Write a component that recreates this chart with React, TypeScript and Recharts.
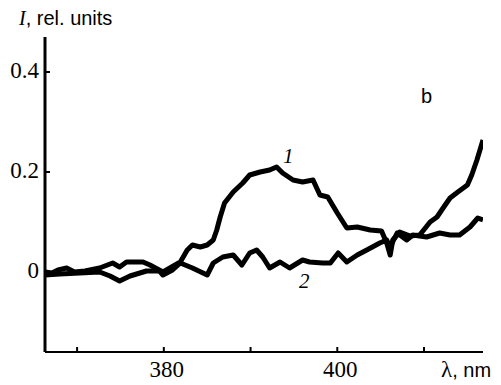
import { LineChart, Line, XAxis, YAxis } from 'recharts';

// Curve 1: wavelength (nm) and intensity
const WAVELENGTH_1 = [
  366.3, 367.1, 367.8, 368.8, 369.7, 370.9, 372.6, 374.1, 374.9, 375.7, 377.6, 378.4,
  379.9, 380.7, 381.9, 382.7, 383.3, 384.2, 385.0, 385.7, 386.1, 386.5, 387.0, 388.0,
  389.1, 389.9, 391.1, 392.2, 393.0, 393.7, 394.9, 396.0, 397.2, 398.0, 398.9, 400.0,
  401.1, 402.3, 403.8, 405.1, 405.7, 406.1, 406.4, 407.2, 408.4, 409.5, 410.7, 411.5,
  412.2, 413.0, 413.9, 415.0, 415.5, 416.1, 416.8,
];
const CURVE_1 = [
  0, -0.002, 0.004, 0.008, 0, 0.002, 0.008, 0.018, 0.01, 0.02, 0.02, 0.014,
  0, 0.008, 0.02, 0.044, 0.054, 0.05, 0.054, 0.064, 0.084, 0.11, 0.138, 0.16,
  0.178, 0.194, 0.2, 0.204, 0.21, 0.198, 0.184, 0.18, 0.184, 0.154, 0.15, 0.118,
  0.088, 0.09, 0.084, 0.082, 0.058, 0.034, 0.064, 0.08, 0.072, 0.074, 0.1, 0.11,
  0.128, 0.148, 0.16, 0.174, 0.194, 0.224, 0.264,
];

// Curve 2
const WAVELENGTH_2 = [
  366.3, 368.0, 370.3, 372.6, 373.8, 374.9, 376.1, 378.0, 379.5, 379.9, 381.0, 381.9,
  383.3, 385.0, 385.7, 386.8, 388.0, 389.0, 389.9, 390.7, 391.4, 392.2, 393.4, 394.5,
  396.0, 396.8, 398.3, 399.2, 400.1, 401.1, 402.3, 403.4, 404.9, 405.7, 406.1, 406.9,
  408.0, 408.7, 410.3, 411.8, 413.0, 414.1, 415.3, 416.2, 416.8,
];
const CURVE_2 = [
  -0.006, -0.004, -0.002, 0, -0.008, -0.018, -0.008, 0.002, 0.002, -0.006, 0.004, 0.018,
  0.008, -0.006, 0.018, 0.03, 0.034, 0.014, 0.038, 0.044, 0.03, 0.008, 0.02, 0.008,
  0.024, 0.02, 0.018, 0.018, 0.038, 0.02, 0.034, 0.044, 0.058, 0.064, 0.05, 0.078,
  0.064, 0.074, 0.07, 0.078, 0.074, 0.074, 0.09, 0.108, 0.104,
];

const X_TICKS = [370, 380, 390, 400, 410];
const X_LABELS = [380, 400];
const Y_TICKS = [0, 0.2, 0.4];
const Y_LABELS = ['0', '0.2', '0.4'];

const SERIF = '"Liberation Serif", "Times New Roman", serif';
const SANS = '"Liberation Sans", Arial, sans-serif';

const curve1 = WAVELENGTH_1.map((nm, i) => ({ nm, v: CURVE_1[i] }));
const curve2 = WAVELENGTH_2.map((nm, i) => ({ nm, v: CURVE_2[i] }));

const XTick = ({ x, y, payload }: any) => (
  <g>
    <line x1={x} x2={x} y1={y - 5} y2={y} stroke="#000" strokeWidth={2} />
    {X_LABELS.includes(payload.value) && (
      <text x={x + 3} y={y + 25} textAnchor="middle" fontFamily={SERIF} fontSize={23} fill="#000">
        {payload.value}
      </text>
    )}
  </g>
);

const YTick = ({ x, y, payload }: any) => {
  const idx = Y_TICKS.indexOf(payload.value);
  return (
    <g>
      <line x1={x} x2={x + 5} y1={y} y2={y} stroke="#000" strokeWidth={2} />
      <text x={x - 6} y={y + 6} textAnchor="end" fontFamily={SERIF} fontSize={23} fill="#000">
        {Y_LABELS[idx]}
      </text>
    </g>
  );
};

const App = () => {
  return (
    <div style={{ position: 'absolute', left: 0, top: 0, width: 501, height: 385, background: '#fff' }}>
      <LineChart width={501} height={385} data={curve1} margin={{ top: 37, right: 18, bottom: 0, left: 0 }}>
        <XAxis
          type="number"
          dataKey="nm"
          domain={[366.3, 416.8]}
          allowDataOverflow
          ticks={X_TICKS}
          tick={<XTick />}
          tickLine={false}
          tickSize={0}
          tickMargin={0}
          height={33}
          axisLine={{ stroke: '#000', strokeWidth: 2 }}
        />
        <YAxis
          type="number"
          domain={[-0.16, 0.47]}
          allowDataOverflow
          ticks={Y_TICKS}
          tick={<YTick />}
          tickLine={false}
          tickSize={0}
          tickMargin={0}
          width={45}
          axisLine={{ stroke: '#000', strokeWidth: 3 }}
        />
        <Line data={curve1} dataKey="v" type="linear" stroke="#000" strokeWidth={5} strokeLinejoin="round" dot={false} isAnimationActive={false} />
        <Line data={curve2} dataKey="v" type="linear" stroke="#000" strokeWidth={5} strokeLinejoin="round" dot={false} isAnimationActive={false} />
      </LineChart>
      <svg width={501} height={385} style={{ position: 'absolute', left: 0, top: 0, pointerEvents: 'none' }}>
        <text x={19} y={25} fontSize={20} fill="#000">
          <tspan fontFamily={SERIF} fontStyle="italic">I</tspan>
          <tspan fontFamily={SANS}>, rel. units</tspan>
        </text>
        <text x={441} y={377} fontSize={20} fill="#000">
          <tspan fontFamily={SERIF} fontSize={23}>λ</tspan>
          <tspan fontFamily={SANS}>,  nm</tspan>
        </text>
        <text x={421} y={103} fontFamily={SANS} fontSize={20} fill="#000">b</text>
        <text x={283} y={163} fontFamily={SERIF} fontStyle="italic" fontSize={21} fill="#000">1</text>
        <text x={299} y={288} fontFamily={SERIF} fontStyle="italic" fontSize={21} fill="#000">2</text>
      </svg>
    </div>
  );
};

export default App;
